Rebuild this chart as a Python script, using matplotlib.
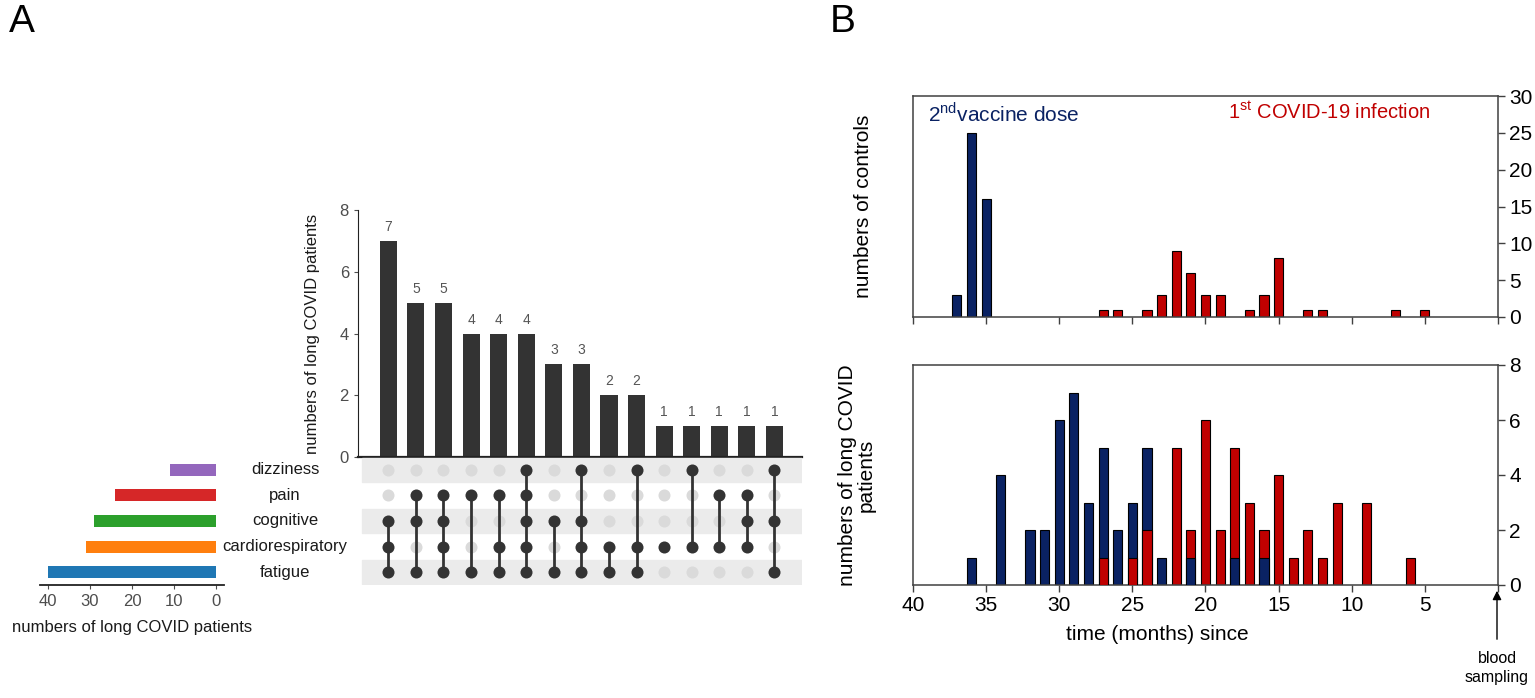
import numpy as np
import matplotlib
matplotlib.use("Agg")
import matplotlib.pyplot as plt
import matplotlib.transforms as mtransforms

plt.rcParams['font.family'] = ['Liberation Sans', 'DejaVu Sans']
plt.rcParams['mathtext.fontset'] = 'custom'
plt.rcParams['mathtext.rm'] = 'Liberation Sans'

# ---- datos panel A (UpSet) ----
sintomas = ['fatigue', 'cardiorespiratory', 'cognitive', 'pain', 'dizziness']
colores_sintomas = ['#1f77b4', '#ff7f0e', '#2ca02c', '#d62728', '#9467bd']
tamanos = [40, 31, 29, 24, 11]
interseccion_n = [7, 5, 5, 4, 4, 4, 3, 3, 2, 2, 1, 1, 1, 1, 1]
interseccion_sets = [
    ['cognitive', 'cardiorespiratory', 'fatigue'],
    ['pain', 'cognitive', 'fatigue'],
    ['pain', 'cognitive', 'cardiorespiratory', 'fatigue'],
    ['pain', 'fatigue'],
    ['pain', 'cardiorespiratory', 'fatigue'],
    ['dizziness', 'pain', 'cognitive', 'cardiorespiratory', 'fatigue'],
    ['cognitive', 'fatigue'],
    ['dizziness', 'cognitive', 'cardiorespiratory', 'fatigue'],
    ['cardiorespiratory', 'fatigue'],
    ['dizziness', 'cardiorespiratory', 'fatigue'],
    ['cardiorespiratory'],
    ['dizziness', 'cardiorespiratory'],
    ['pain', 'cardiorespiratory'],
    ['pain', 'cognitive', 'cardiorespiratory'],
    ['dizziness', 'cognitive', 'fatigue'],
]

# ---- datos panel B ----
ctrl_vac_meses = [37, 36, 35]
ctrl_vac_n = [3, 25, 16]
ctrl_inf_meses = [27, 26, 24, 23, 22, 21, 20, 19, 17, 16, 15, 13, 12, 7, 5]
ctrl_inf_n = [1, 1, 1, 3, 9, 6, 3, 3, 1, 3, 8, 1, 1, 1, 1]
lc_vac_meses = [36, 34, 32, 31, 30, 29, 28, 27, 26, 25, 24, 23, 21, 18, 16]
lc_vac_n = [1, 4, 2, 2, 6, 7, 3, 5, 2, 3, 5, 1, 1, 1, 1]
lc_inf_meses = [27, 25, 24, 22, 21, 20, 19, 18, 17, 16, 15, 14, 13, 12, 11, 9, 6]
lc_inf_n = [1, 1, 2, 5, 2, 6, 2, 5, 3, 2, 4, 1, 2, 1, 3, 3, 1]
xticks_b = [40, 35, 30, 25, 20, 15, 10, 5, 0]
xticklabels_b = ['40', '35', '30', '25', '20', '15', '10', '5', '']

AZUL = '#0a2263'
ROJO = '#c00000'

W, H = 1535, 698
fig = plt.figure(figsize=(W / 100, H / 100), dpi=100)


def ejes_px(x0, y0, x1, y1):
    # crea un eje usando coordenadas en pixeles (origen arriba a la izquierda)
    return fig.add_axes([x0 / W, 1 - y1 / H, (x1 - x0) / W, (y1 - y0) / H])


# ================= Panel A =================
gris = '#4d4d4d'
fs_a = 12
ncol = len(interseccion_n)
xcols = np.arange(ncol)

ax_bar = ejes_px(358, 210, 802, 457)
barras = ax_bar.bar(xcols, interseccion_n, width=0.62, color='#333333')
ax_bar.bar_label(barras, padding=5, color='#555555', fontsize=10)
ax_bar.set_xlim(-1.1, 15.0)
ax_bar.set_ylim(0, 8)
ax_bar.set_yticks([0, 2, 4, 6, 8])
ax_bar.set_xticks([])
ax_bar.tick_params(axis='y', colors=gris, labelsize=fs_a, length=3)
for s in ['top', 'right']:
    ax_bar.spines[s].set_visible(False)
ax_bar.spines['left'].set_color('#222222')
ax_bar.spines['bottom'].set_color('#222222')
ax_bar.spines['bottom'].set_linewidth(1.6)
ax_bar.set_ylabel('numbers of long COVID patients', fontsize=fs_a, color='#1a1a1a', labelpad=14)

ax_mat = ejes_px(358, 457, 802, 585)
ax_mat.set_xlim(-1.1, 15.0)
ax_mat.set_ylim(-0.5, 4.5)
ax_mat.axis('off')
for i in range(0, len(sintomas), 2):
    ax_mat.axhspan(i - 0.46, i + 0.46, xmin=0.01, color='#ebebeb', zorder=0)
for j, grupo in enumerate(interseccion_sets):
    filas = [sintomas.index(g) for g in grupo]
    inactivas = [i for i in range(len(sintomas)) if i not in filas]
    ax_mat.scatter([j] * len(inactivas), inactivas, s=75, color='#dadada', zorder=2, linewidths=0)
    ax_mat.plot([j, j], [min(filas), max(filas)], color='#333333', lw=2, zorder=3)
    ax_mat.scatter([j] * len(filas), filas, s=75, color='#333333', zorder=4, linewidths=0)

ax_set = ejes_px(40, 457, 224, 585)
ax_set.barh(np.arange(len(sintomas)), tamanos, height=0.47, color=colores_sintomas)
ax_set.set_xlim(41.9, -1.9)
ax_set.set_ylim(-0.5, 4.5)
ax_set.set_yticks([])
ax_set.set_xticks([40, 30, 20, 10, 0])
ax_set.tick_params(axis='x', colors=gris, labelsize=fs_a, length=3)
for s in ['top', 'right', 'left']:
    ax_set.spines[s].set_visible(False)
ax_set.spines['bottom'].set_color('#222222')
ax_set.spines['bottom'].set_linewidth(1.3)
ax_set.set_xlabel('numbers of long COVID patients', fontsize=fs_a, color='#1a1a1a', labelpad=8)

trans = mtransforms.blended_transform_factory(fig.transFigure, ax_mat.transData)
for i, nombre in enumerate(sintomas):
    fig.text(285 / W, i, nombre, transform=trans, ha='center', va='center',
             fontsize=fs_a, color='#1a1a1a')

# ================= Panel B =================
fs_b = 15
ax_top = ejes_px(913, 96, 1498, 317)
ax_bot = ejes_px(913, 365, 1498, 585)

ax_top.bar(ctrl_vac_meses, ctrl_vac_n, width=0.62, color=AZUL, edgecolor='black', lw=0.8)
ax_top.bar(ctrl_inf_meses, ctrl_inf_n, width=0.62, color=ROJO, edgecolor='black', lw=0.8)

# en el panel de abajo las barras se solapan: la mas alta va detras
vac = dict(zip(lc_vac_meses, lc_vac_n))
inf = dict(zip(lc_inf_meses, lc_inf_n))
for m in sorted(set(vac) | set(inf)):
    pares = [(vac.get(m, 0), AZUL), (inf.get(m, 0), ROJO)]
    pares.sort(key=lambda p: -p[0])
    for k, (alto, col) in enumerate(pares):
        if alto > 0:
            ax_bot.bar(m, alto, width=0.62, color=col, edgecolor='black', lw=0.8, zorder=2 + k)

for ax, ymax, paso in [(ax_top, 30, 5), (ax_bot, 8, 2)]:
    ax.set_xlim(40, 0)
    ax.set_ylim(0, ymax)
    ax.set_yticks(np.arange(0, ymax + 1, paso))
    ax.yaxis.tick_right()
    ax.set_xticks(xticks_b)
    for s in ax.spines.values():
        s.set_color('#404040')
        s.set_linewidth(1.1)
    ax.tick_params(axis='both', direction='out', length=5, width=1, color='#404040',
                   labelsize=fs_b, pad=3)

ax_top.set_xticklabels([])
ax_bot.set_xticklabels(xticklabels_b)

ax_top.set_ylabel('numbers of controls', fontsize=fs_b)
ax_top.yaxis.set_label_coords(-0.068, 0.5)
ax_bot.set_ylabel('numbers of long COVID\npatients', fontsize=fs_b, linespacing=1.0)
ax_bot.yaxis.set_label_coords(-0.063, 0.5)

ax_top.text(0.026, 0.975, r'2$^{\mathrm{nd}}$vaccine dose', transform=ax_top.transAxes,
            color=AZUL, fontsize=fs_b, ha='left', va='top')
ax_top.text(0.538, 0.975, r'1$^{\mathrm{st}}$ COVID-19 infection', transform=ax_top.transAxes,
            color=ROJO, fontsize=14.5, ha='left', va='top')

fig.text(1157 / W, 1 - 635 / H, 'time (months) since', fontsize=fs_b, ha='center', va='center')
ax_bot.annotate('', xy=(1497 / W, 1 - 588 / H), xytext=(1497 / W, 1 - 642 / H),
                xycoords='figure fraction', textcoords='figure fraction',
                arrowprops=dict(arrowstyle='-|>', color='black', lw=1, mutation_scale=13))
fig.text(1497 / W, 1 - 668 / H, 'blood\nsampling', fontsize=11.5, ha='center', va='center',
         linespacing=1.35)

fig.text(22 / W, 1 - 22 / H, 'A', fontsize=28, ha='center', va='center')
fig.text(843 / W, 1 - 22 / H, 'B', fontsize=28, ha='center', va='center')

fig.savefig('out.png', dpi=100)
